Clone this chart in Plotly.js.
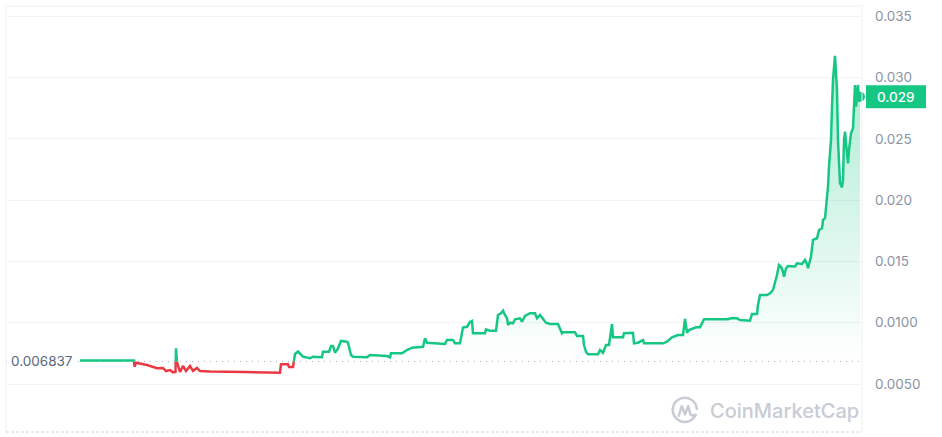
<!DOCTYPE html>
<html>
<head>
<meta charset="utf-8">
<script src="https://cdn.plot.ly/plotly-3.0.1.min.js"></script>
<style>
html,body{margin:0;padding:0;background:#fff;}
#chart{width:942px;height:437px;}
</style>
</head>
<body>
<div id="chart"></div>
<script>
// ---- data ----
const openPrice = 0.006837;
const lastPriceLabel = "0.029";
const time = [0,54,54.5,56,67,77,83,86,90,93,95.5,96,97,100,103,106,110,113,117,120,130,165,200,201,208,209,213,215,218,223,230,233,242,243,249,251,253,255,258,261,267,268,271,273,287,290,307,310,311,322,327,332,343,345,347,357,365,367,373,375,380,383,387,390,392,393,405,406,410,416,418,421,423,425,427,428,430,433,435,440,442,445,450,455,457,460,463,466,470,478,482,483,495,497,503,504,506,508,518,520,523,526,529,532,533,543,544,553,554,558,563,564,583,587,592,595,598,603,605,607,609,616,620,624,648,652,657,660,665,670,672,677,678,680,687,690,693,695,697,699,701,703,704,706,708,715,717,722,725,727,728,731,733,737,739,742,743,745,747,748,749,751,752,753,755,757,758,760,762,763,764,765,767,768,769,771,773,774,775,776,778,779,780];
const price = [0.00692,0.00692,0.00641,0.00674,0.00655,0.00628,0.00631,0.00606,0.00614,0.00595,0.00598,0.00791,0.00679,0.00598,0.00647,0.00606,0.00647,0.00606,0.00631,0.00606,0.00602,0.00598,0.00592,0.00661,0.00661,0.00639,0.00639,0.00745,0.00765,0.00723,0.00710,0.00723,0.00718,0.00763,0.00763,0.00810,0.00810,0.00755,0.00791,0.00851,0.00845,0.00837,0.00737,0.00723,0.00718,0.00737,0.00728,0.00718,0.00750,0.00750,0.00777,0.00796,0.00804,0.00873,0.00837,0.00832,0.00826,0.00859,0.00859,0.00832,0.00832,0.00961,0.00967,0.01006,0.01014,0.00914,0.00914,0.00946,0.00935,0.00935,0.01063,0.01077,0.01098,0.01063,0.01036,0.00981,0.01000,0.00995,0.01028,0.01036,0.01008,0.01055,0.01077,0.01077,0.01036,0.01063,0.01036,0.01000,0.00989,0.00989,0.00914,0.00922,0.00922,0.00892,0.00892,0.00818,0.00763,0.00742,0.00742,0.00777,0.00755,0.00818,0.00818,0.00989,0.00881,0.00881,0.00914,0.00918,0.00832,0.00837,0.00859,0.00832,0.00832,0.00845,0.00881,0.00892,0.00900,0.00900,0.01030,0.00918,0.00940,0.00962,0.00962,0.01028,0.01028,0.01038,0.01036,0.01022,0.01016,0.01016,0.01071,0.01071,0.01144,0.01226,0.01226,0.01240,0.01267,0.01321,0.01389,0.01471,0.01457,0.01416,0.01375,0.01444,0.01463,0.01459,0.01485,0.01479,0.01512,0.01479,0.01444,0.01539,0.01675,0.01689,0.01756,0.01770,0.01838,0.01852,0.02001,0.02109,0.02273,0.02490,0.02762,0.02980,0.03176,0.02899,0.02490,0.02137,0.02104,0.02164,0.02490,0.02558,0.02382,0.02300,0.02409,0.02545,0.02586,0.02762,0.02939,0.02762,0.02939,0.02803,0.02844];
const tickValues = [0.005,0.010,0.015,0.020,0.025,0.030,0.035];
const tickLabels = ["0.0050","0.0100","0.015","0.020","0.025","0.030","0.035"];
const watermark = "CoinMarketCap";

// ---- styles ----
const GREEN = "#16c784", RED = "#ea3943";
const FONT = "Inter, 'Noto Sans', sans-serif";

// split the line into above/below-open segments (crossing points on the open price)
function split(t, p, base) {
  const up = {x: [], y: []}, dn = {x: [], y: []};
  for (let i = 0; i < t.length; i++) {
    const above = p[i] >= base;
    if (i > 0) {
      const prevAbove = p[i - 1] >= base;
      if (prevAbove !== above) {
        const f = (base - p[i - 1]) / (p[i] - p[i - 1]);
        const tc = t[i - 1] + f * (t[i] - t[i - 1]);
        const prev = prevAbove ? up : dn, cur = above ? up : dn;
        prev.x.push(tc, null); prev.y.push(base, null);
        cur.x.push(tc); cur.y.push(base);
      }
    }
    const s = above ? up : dn;
    s.x.push(t[i]); s.y.push(p[i]);
  }
  return {up, dn};
}
const seg = split(time, price, openPrice);
const n = time.length;

const traces = [
  {
    x: time, y: price, type: "scatter", mode: "lines",
    line: {width: 0}, fill: "tozeroy",
    fillgradient: {type: "vertical", start: openPrice, stop: 0.030,
      colorscale: [[0, "rgba(22,199,132,0)"], [1, "rgba(22,199,132,0.34)"]]},
    hoverinfo: "skip"
  },
  {x: seg.dn.x, y: seg.dn.y, type: "scatter", mode: "lines",
   line: {color: RED, width: 2.5}, connectgaps: false, hoverinfo: "skip"},
  {x: seg.up.x, y: seg.up.y, type: "scatter", mode: "lines",
   line: {color: GREEN, width: 2.5}, connectgaps: false, hoverinfo: "skip"},
  {x: [time[n - 1]], y: [price[n - 1]], type: "scatter", mode: "markers",
   marker: {color: GREEN, size: 10, line: {width: 0}}, cliponaxis: false, hoverinfo: "skip"}
];

const BORDER = "#eef0f3";
const layout = {
  width: 942, height: 437,
  margin: {l: 6, r: 80, t: 6, b: 5},
  paper_bgcolor: "#ffffff", plot_bgcolor: "#ffffff",
  showlegend: false,
  font: {family: FONT, color: "#808a9d", size: 13},
  xaxis: {range: [-74, 782], showgrid: false, zeroline: false, showticklabels: false, ticks: "", fixedrange: true},
  yaxis: {
    range: [0.001085, 0.035832], side: "right",
    tickvals: tickValues, ticktext: tickLabels,
    showgrid: true, gridcolor: "#f1f3f6", gridwidth: 1,
    zeroline: false, ticks: "", ticklabelstandoff: 12,
    tickfont: {family: FONT, size: 13.5, color: "#8a93a6"}, fixedrange: true
  },
  shapes: [
    {type: "line", xref: "paper", yref: "paper", x0: 0, x1: 1, y0: 1, y1: 1, line: {color: BORDER, width: 1}},
    {type: "line", xref: "paper", yref: "paper", x0: 0, x1: 0, y0: 0, y1: 1, line: {color: BORDER, width: 1}},
    {type: "line", xref: "paper", yref: "paper", x0: 1, x1: 1, y0: 0, y1: 1, line: {color: BORDER, width: 1}},
    {type: "line", xref: "paper", yref: "paper", x0: 0, x1: 1, y0: 0, y1: 0, line: {color: "#cfd5de", width: 1, dash: "3px,2px"}},
    {type: "line", xref: "paper", yref: "y", x0: 0, x1: 1, y0: openPrice, y1: openPrice, layer: "below",
     line: {color: "#a6b0c3", width: 1, dash: "1px,5px"}},
    {type: "rect", xref: "paper", xsizemode: "pixel", xanchor: 1, x0: 4, x1: 64,
     yref: "y", ysizemode: "pixel", yanchor: price[n - 1], y0: -11.5, y1: 11.5,
     fillcolor: GREEN, line: {width: 0}, layer: "above"}
  ],
  annotations: [
    {xref: "paper", yref: "y", x: 0, y: openPrice, xanchor: "left", yanchor: "middle", xshift: 2,
     text: openPrice.toString(), showarrow: false, bgcolor: "#ffffff", borderpad: 2,
     font: {family: FONT, size: 13.5, color: "#58667e"}},
    {xref: "paper", yref: "y", x: 1, y: price[n - 1], xanchor: "left", yanchor: "middle", xshift: 13,
     text: lastPriceLabel, showarrow: false,
     font: {family: FONT, size: 13.5, color: "#ffffff", weight: 500}},
    {xref: "paper", yref: "paper", x: 0.8201, y: 0.0493, xanchor: "left", yanchor: "middle",
     text: watermark, showarrow: false,
     font: {family: FONT, size: 20, color: "#c7ccd5", weight: 500}}
  ],
  images: [{
    source: "data:image/svg+xml;utf8," + encodeURIComponent(
      "<svg xmlns='http://www.w3.org/2000/svg' viewBox='0 0 30 30'>" +
      "<path d='M26.2 19.5 A12.5 12.5 0 1 1 27.3 13.5' fill='none' stroke='#c7ccd5' stroke-width='2.6' stroke-linecap='round'/>" +
      "<path d='M8.5 20.5 L11.8 10.5 L15 19 L18.3 10.5 L20.5 18.5 Q22 21.5 25 19.5' fill='none' stroke='#c7ccd5' stroke-width='2.6' stroke-linecap='round' stroke-linejoin='round'/>" +
      "</svg>"),
    xref: "paper", yref: "paper", x: 0.7757, y: 0.0845, sizex: 0.035, sizey: 0.068,
    xanchor: "left", yanchor: "top", sizing: "contain", layer: "above"
  }]
};

Plotly.newPlot("chart", traces, layout, {displayModeBar: false, staticPlot: true});
</script>
</body>
</html>
